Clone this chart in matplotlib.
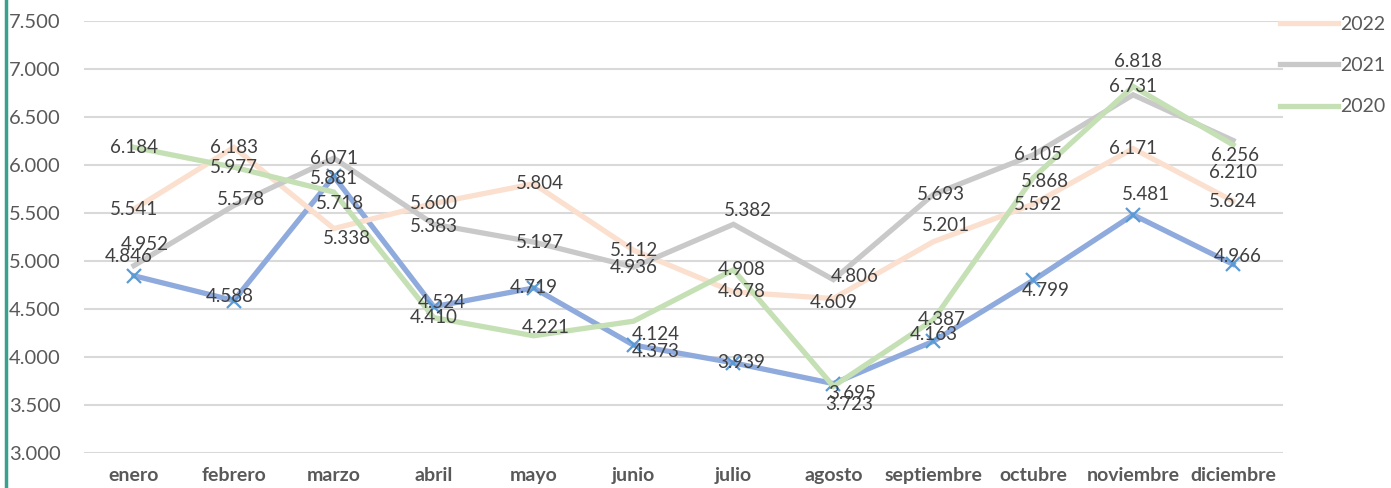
import matplotlib
matplotlib.use("Agg")
import matplotlib.pyplot as plt
from matplotlib.lines import Line2D

plt.rcParams['font.family'] = ['Lato', 'DejaVu Sans']

# datos
meses = ['enero', 'febrero', 'marzo', 'abril', 'mayo', 'junio', 'julio',
         'agosto', 'septiembre', 'octubre', 'noviembre', 'diciembre']
v2023 = [4846, 4588, 5881, 4524, 4719, 4124, 3939, 3723, 4163, 4799, 5481, 4966]
v2022 = [5541, 6183, 5338, 5600, 5804, 5112, 4678, 4609, 5201, 5592, 6171, 5624]
v2021 = [4952, 5578, 6071, 5383, 5197, 4936, 5382, 4806, 5693, 6105, 6731, 6256]
v2020 = [6184, 5977, 5718, 4410, 4221, 4373, 4908, 3695, 4387, 5868, 6818, 6210]
yticks = [3000, 3500, 4000, 4500, 5000, 5500, 6000, 6500, 7000, 7500]

# desplazamiento de las etiquetas (pixeles)
off2023 = [(-5, 19), (-4, 4), (0, -2), (8, 4), (0, 0), (22, 11), (8, 0), (16, -21), (0, 7), (12, -10), (13, 20), (5, 8)]
off2022 = [(0, 0), (0, 0), (13, -10), (0, 0), (6, 0), (0, 0), (8, 0), (0, -4), (13, 16), (5, 0), (0, 0), (0, 0)]
off2021 = [(11, 21), (7, 6), (0, 0), (0, -2), (6, 0), (0, 0), (14, 14), (21, 3), (8, 0), (5, 0), (0, 8), (2, -15)]
off2020 = [(0, 0), (0, 0), (6, -11), (0, 0), (12, 8), (22, -30), (8, 0), (19, -7), (8, 0), (12, -4), (5, 25), (0, -28)]


def fmt(v):
    return f"{v:,.0f}".replace(",", ".")


fig = plt.figure(figsize=(13.91, 4.88), dpi=100)
ax = fig.add_axes([84 / 1391, 35 / 488, (1283 - 84) / 1391, 432 / 488])

x = list(range(len(meses)))
series = [
    (v2023, '#8FAADC', off2023, None),
    (v2022, '#FBE0CF', off2022, '2022'),
    (v2021, '#C9C9C9', off2021, '2021'),
    (v2020, '#C5E0B4', off2020, '2020'),
]
for i, (vals, col, offs, lab) in enumerate(series):
    ax.plot(x, vals, color=col, lw=3.8, solid_joinstyle='miter', zorder=3 + i)
    for xi, v, (dx, dy) in zip(x, vals, offs):
        ax.annotate(fmt(v), (xi, v), xytext=(dx, dy), textcoords='offset pixels',
                    ha='center', va='center', fontsize=13.5, color='#404040', zorder=10)

# marcadores de la serie azul
ax.plot(x, v2023, ls='none', marker='x', ms=10, mew=1.6, color='#5B9BD5', zorder=4)

ax.set_xlim(-0.5, len(meses) - 0.5)
ax.set_ylim(3000, 7500)
ax.set_yticks(yticks)
ax.set_yticklabels([fmt(t) for t in yticks], fontsize=14.5, color='#595959')
ax.set_xticks(x)
ax.set_xticklabels(meses, fontsize=14, fontweight='bold', color='#595959')
ax.tick_params(axis='both', length=0)
ax.tick_params(axis='y', pad=17)
ax.tick_params(axis='x', pad=10)
ax.grid(axis='y', color='#D9D9D9', lw=1.5)
ax.set_axisbelow(True)
for s in ax.spines.values():
    s.set_visible(False)

handles = [Line2D([], [], color=c, lw=3.8) for _, c, _, l in series if l]
labels = [l for _, _, _, l in series if l]
fig.legend(handles, labels, loc='upper left', bbox_to_anchor=(1270 / 1391, 1 - 6 / 488),
           frameon=False, fontsize=14, handlelength=3.0, handletextpad=0.1,
           labelspacing=1.25, borderpad=0, labelcolor='#595959')

# linea vertical a la izquierda
fig.add_artist(Line2D([5.5 / 1391, 5.5 / 1391], [0, 1], color='#3AA08E', lw=2.5,
                      transform=fig.transFigure))

fig.savefig('out.png', dpi=100)
